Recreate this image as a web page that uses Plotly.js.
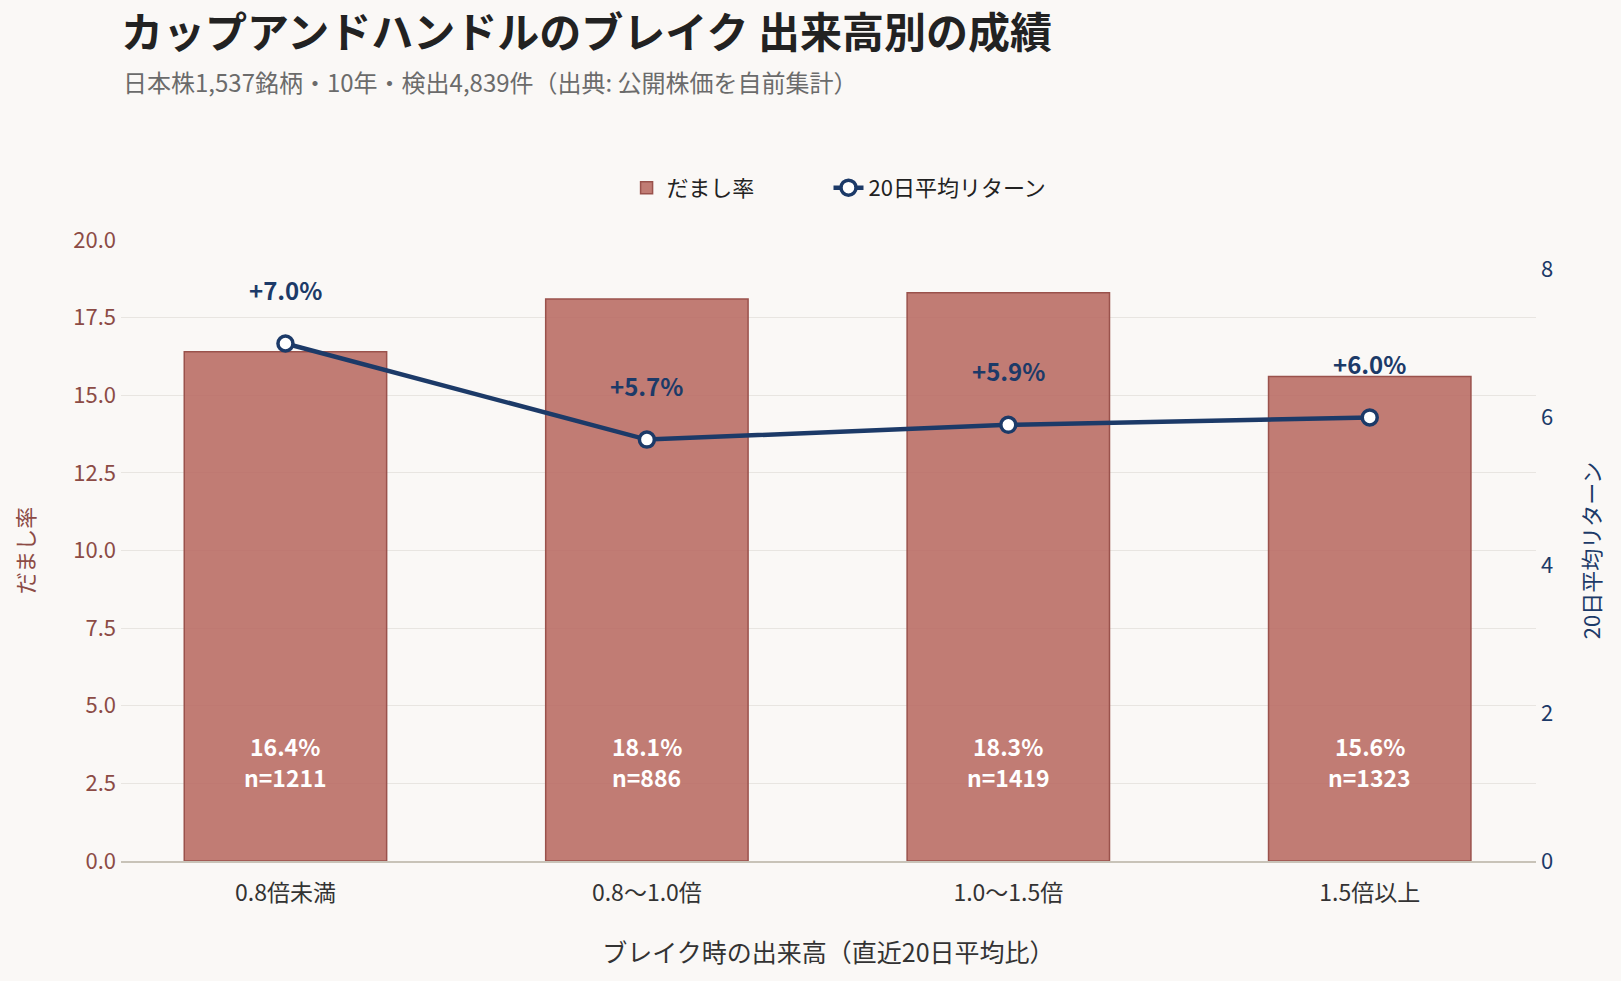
<!DOCTYPE html>
<html>
<head>
<meta charset="utf-8">
<script src="https://cdn.plot.ly/plotly-3.0.1.min.js"></script>
<style>
  html, body { margin: 0; padding: 0; background: #faf8f6; }
  #chart { width: 1621px; height: 981px; }
</style>
</head>
<body>
<div id="chart"></div>
<script>
// 出来高区分ごとのだまし率と20日平均リターン
const categories = ['0.8倍未満', '0.8〜1.0倍', '1.0〜1.5倍', '1.5倍以上'];
const falseBreakRate = [16.4, 18.1, 18.3, 15.6];   // だまし率 (%)
const sampleCounts = [1211, 886, 1419, 1323];       // 検出件数
const avgReturn20d = [7.0, 5.7, 5.9, 6.0];          // 20日平均リターン (%)

const FONT = '"Noto Sans CJK JP", "Noto Sans", sans-serif';
const BAR_FILL = 'rgba(184, 106, 98, 0.88)';
const BAR_EDGE = '#9a524c';
const RATE_COLOR = '#8c4b45';
const RET_COLOR = '#1c3a68';

const bars = {
  type: 'bar',
  name: 'だまし率',
  x: categories,
  y: falseBreakRate,
  width: 0.56,
  marker: { color: BAR_FILL, line: { color: BAR_EDGE, width: 1.5 } },
  hoverinfo: 'skip'
};

const line = {
  type: 'scatter',
  mode: 'lines+markers',
  name: '20日平均リターン',
  legend: 'legend2',
  x: categories,
  y: avgReturn20d,
  yaxis: 'y2',
  line: { color: RET_COLOR, width: 4.5 },
  marker: { size: 15, color: '#ffffff', line: { color: RET_COLOR, width: 3.5 } },
  hoverinfo: 'skip'
};

// 棒の下部に率と件数、折れ線の上にリターンを表示
const annotations = [];
categories.forEach((c, i) => {
  annotations.push({
    x: c, y: 3.2, xref: 'x', yref: 'y', yshift: 16,
    text: '<b>' + falseBreakRate[i].toFixed(1) + '%</b>',
    showarrow: false, borderpad: 0,
    font: { family: FONT, size: 23, color: '#ffffff' },
    yanchor: 'middle'
  });
  annotations.push({
    x: c, y: 3.2, xref: 'x', yref: 'y', yshift: -15,
    text: '<b>n=' + sampleCounts[i] + '</b>',
    showarrow: false, borderpad: 0,
    font: { family: FONT, size: 23, color: '#ffffff' },
    yanchor: 'middle'
  });
  annotations.push({
    x: c, y: avgReturn20d[i], xref: 'x', yref: 'y2',
    text: '<b>+' + avgReturn20d[i].toFixed(1) + '%</b>',
    showarrow: false, yshift: 54,
    font: { family: FONT, size: 24, color: RET_COLOR },
    yanchor: 'middle'
  });
});

annotations.push({
  xref: 'paper', yref: 'paper', x: 0, y: 1.255,
  xanchor: 'left', yanchor: 'middle',
  text: '日本株1,537銘柄・10年・検出4,839件（出典: 公開株価を自前集計）',
  showarrow: false,
  font: { family: FONT, size: 24, color: '#6b6b6b' }
});

const legendStyle = {
  orientation: 'h',
  xanchor: 'left',
  y: 1.084, yanchor: 'middle',
  font: { family: FONT, size: 22, color: '#222222' },
  bgcolor: 'rgba(0,0,0,0)'
};

const layout = {
  width: 1621,
  height: 981,
  paper_bgcolor: '#faf8f6',
  plot_bgcolor: '#faf8f6',
  font: { family: FONT, color: '#333333' },
  margin: { l: 121, r: 85, t: 240, b: 120 },
  title: {
    text: '<b>カップアンドハンドルのブレイク 出来高別の成績</b>',
    xref: 'paper', x: 0, xanchor: 'left',
    yref: 'container', y: 1 - 33 / 981, yanchor: 'middle',
    font: { family: FONT, size: 42, color: '#222222' }
  },
  showlegend: true,
  legend: Object.assign({ x: 0.3573 }, legendStyle),
  legend2: Object.assign({ x: 0.5 }, legendStyle),
  xaxis: {
    range: [-0.455, 3.46],
    tickfont: { family: FONT, size: 23, color: '#333333' },
    ticks: '',
    ticklabelstandoff: 11,
    showgrid: false,
    showline: true,
    linecolor: '#c8c3b8',
    linewidth: 1.5,
    title: {
      text: 'ブレイク時の出来高（直近20日平均比）',
      font: { family: FONT, size: 25, color: '#333333' },
      standoff: 37
    }
  },
  yaxis: {
    range: [0, 20],
    dtick: 2.5,
    tickformat: '.1f',
    tickfont: { family: FONT, size: 22, color: RATE_COLOR },
    ticklabelstandoff: 4,
    gridcolor: '#e8e5e1',
    gridwidth: 1.2,
    zeroline: false,
    showline: false,
    ticks: '',
    title: {
      text: 'だまし率',
      font: { family: FONT, size: 22, color: RATE_COLOR },
      standoff: 32
    }
  },
  yaxis2: {
    overlaying: 'y',
    side: 'right',
    range: [0, 8.4],
    dtick: 2,
    showgrid: false,
    zeroline: false,
    showline: false,
    ticks: '',
    ticklabelstandoff: 4,
    tickfont: { family: FONT, size: 22, color: RET_COLOR },
    title: {
      text: '20日平均リターン',
      font: { family: FONT, size: 22, color: RET_COLOR },
      standoff: 32
    }
  },
  annotations: annotations
};

Plotly.newPlot('chart', [bars, line], layout, { displayModeBar: false, staticPlot: true });
</script>
</body>
</html>
